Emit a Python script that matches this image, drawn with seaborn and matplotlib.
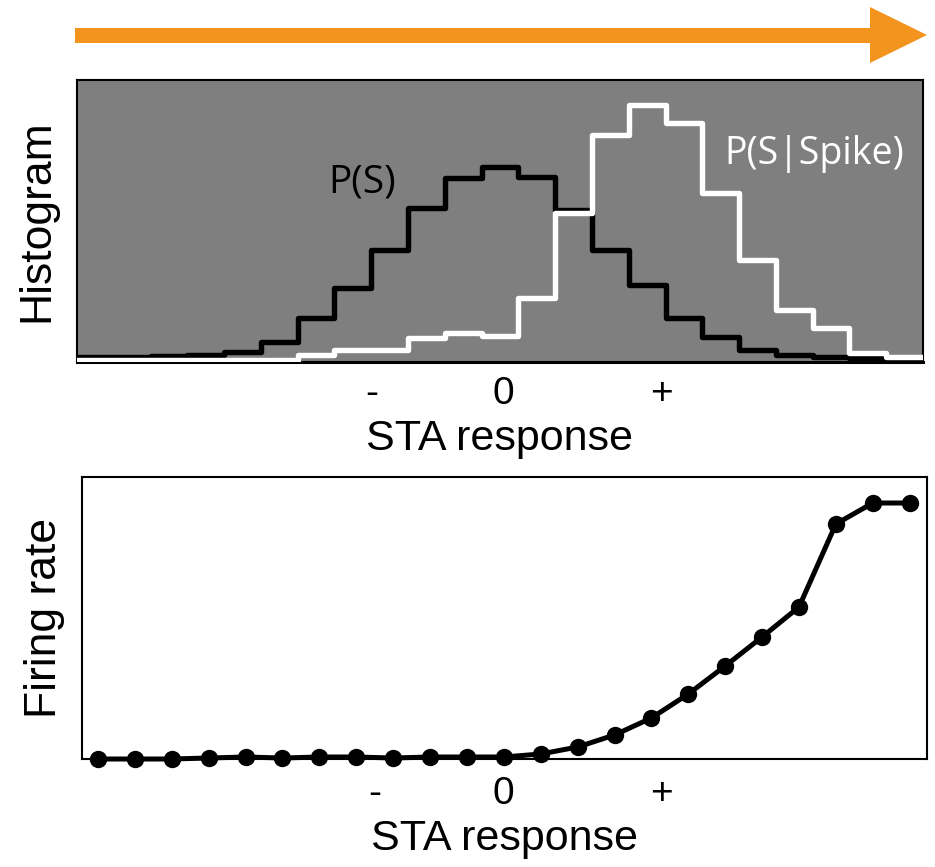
import numpy as np
import pandas as pd
import matplotlib
matplotlib.use("Agg")
import matplotlib.pyplot as plt
from matplotlib.patches import Polygon
import seaborn as sns

sns.set_theme(style="white")
plt.rcParams['font.family'] = ['Liberation Sans', 'DejaVu Sans']
plt.rcParams['text.color'] = 'black'
plt.rcParams['axes.labelcolor'] = 'black'
plt.rcParams['xtick.color'] = 'black'

# ---- data ----
bin_index = list(range(23))
p_s = [3, 3, 4, 5, 8, 18, 42, 72, 110, 152, 182, 193, 183, 150, 110, 75, 42, 23, 10, 5, 3, 2, 1]
p_s_spike = [0, 0, 0, 0, 0, 0, 5, 10, 10, 22, 27, 24, 62, 147, 225, 255, 237, 167, 100, 50, 32, 7, 3]
firing_rate = [0, 0, 0, 1, 2, 1, 2, 2, 1, 2, 2, 2, 5, 12, 24, 41, 65, 93, 122, 152, 235, 256, 256]
tick_labels = ["-", "0", "+"]
hist_tick_pos = [8.02, 11.58, 15.9]
rate_tick_pos = [7.51, 10.98, 15.28]

W, H = 935, 867
fig = plt.figure(figsize=(W / 100, H / 100), dpi=100)

def frac(l, t, r, b):
    return [l / W, 1 - b / H, (r - l) / W, (b - t) / H]

# ---- top: histograms ----
ax1 = fig.add_axes(frac(77, 80, 923, 362))
ax1.set_facecolor("#7f7f7f")
nb = len(bin_index)
centers = np.array(bin_index) + 0.5
df = pd.DataFrame({"x": centers, "ps": p_s, "pss": p_s_spike})
sns.histplot(data=df, x="x", weights="ps", bins=nb, binrange=(0, nb), element="step", fill=False,
             color="black", linewidth=3.9, ax=ax1, zorder=3)
sns.histplot(data=df, x="x", weights="pss", bins=nb, binrange=(0, nb), element="step", fill=False,
             color="white", linewidth=3.9, ax=ax1, zorder=4)
ax1.set_xlim(0, nb)
ax1.set_ylim(-2, 280)
ax1.set_yticks([])
ax1.set_xticks(hist_tick_pos)
ax1.set_xticklabels(tick_labels, fontsize=28)
ax1.tick_params(axis="x", length=0, pad=10)
ax1.set_xlabel("STA response", fontsize=31, labelpad=5)
ax1.set_ylabel("Histogram", fontsize=32, labelpad=14)
for s in ["left", "top", "right"]:
    ax1.spines[s].set_linewidth(1.5)
    ax1.spines[s].set_color("black")
ax1.spines["bottom"].set_linewidth(2.2)
ax1.spines["bottom"].set_color("black")
ax1.text(7.75, 178, "P(S)", fontsize=28, color="black", ha="center", va="center",
         family=["Open Sans", "DejaVu Sans"])
ax1.text(20.05, 206, "P(S|Spike)", fontsize=27, color="white", ha="center", va="center",
         family=["Open Sans", "DejaVu Sans"])

# ---- bottom: firing rate ----
ax2 = fig.add_axes(frac(82, 477, 927, 759))
ax2.set_facecolor("white")
df2 = pd.DataFrame({"x": bin_index, "rate": firing_rate})
sns.lineplot(data=df2, x="x", y="rate", color="black", linewidth=3.6, marker="o",
             markersize=12.5, markeredgewidth=0, ax=ax2, clip_on=False, zorder=3)
ax2.set_xlim(-0.434, 22.47)
ax2.set_ylim(0, 282)
ax2.set_yticks([])
ax2.set_xticks(rate_tick_pos)
ax2.set_xticklabels(tick_labels, fontsize=28)
ax2.tick_params(axis="x", length=0, pad=12)
ax2.set_xlabel("STA response", fontsize=31, labelpad=5)
ax2.set_ylabel("Firing rate", fontsize=32, labelpad=12)
for s in ax2.spines.values():
    s.set_linewidth(1.5)
    s.set_color("black")

# ---- orange arrow (decoration) ----
ax0 = fig.add_axes([0, 0, 1, 1], zorder=-1)
ax0.set_xlim(0, W)
ax0.set_ylim(H, 0)
ax0.axis("off")
arrow = Polygon([[75, 28], [870, 28], [870, 7], [927, 35], [870, 63], [870, 43], [75, 43]],
                closed=True, facecolor="#F3941E", edgecolor="none")
ax0.add_patch(arrow)

fig.savefig("out.png", dpi=100)
